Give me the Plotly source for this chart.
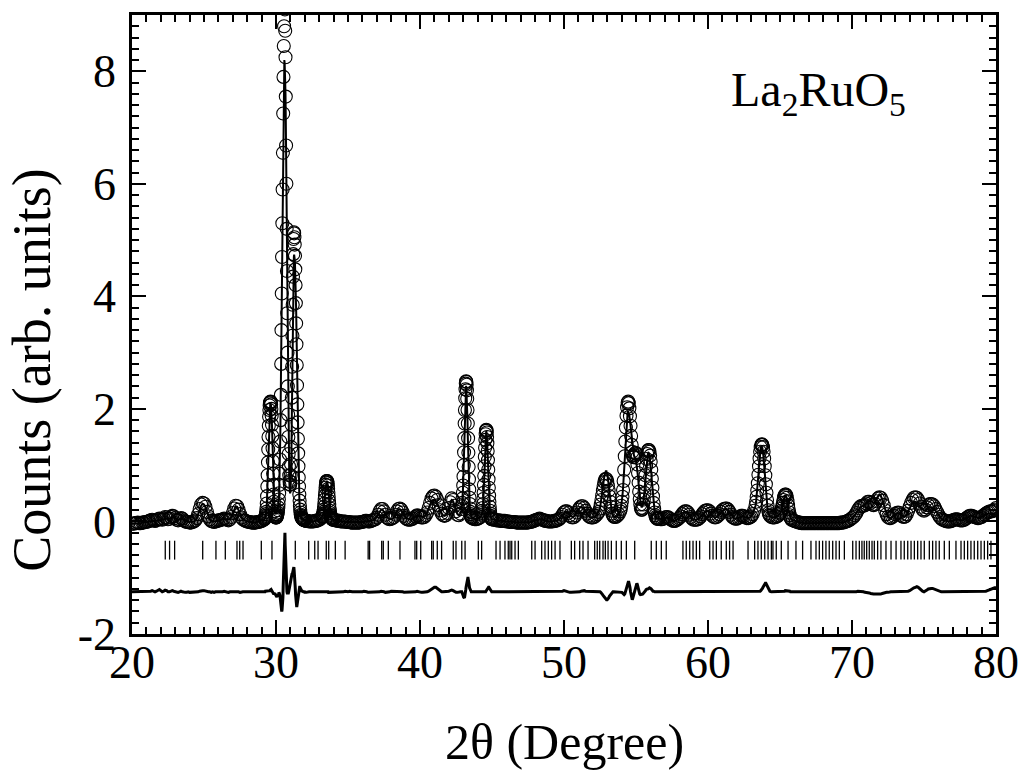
import plotly.graph_objects as go

# ---------------- data ----------------
# Observed (obs) and calculated (calc) intensities, stored per sampled segment.
# Each segment: first 2-theta value, 2-theta step, obs list, calc list.
seg_a_obs = [-0.04, -0.04, -0.03, -0.03, -0.02, -0.03, -0.03, -0.02, -0.02, -0.01,
             -0.01, 0.00, 0.01, 0.02, 0.03, 0.02, 0.01, 0.02, 0.04, 0.05,
             0.04, 0.03, 0.05, 0.08, 0.07, 0.04, 0.05, 0.08, 0.10, 0.09,
             0.06, 0.03, 0.02, 0.04, 0.06, 0.05, 0.02, 0.00, -0.01, -0.01,
             -0.02, -0.02, -0.01, 0.00, 0.02, 0.06, 0.13, 0.22, 0.30, 0.33,
             0.32, 0.26, 0.17, 0.09, 0.04, 0.01, 0.00, -0.01, 0.00, 0.01,
             0.02, 0.02, 0.03, 0.04, 0.05, 0.04, 0.03, 0.02, 0.04, 0.08,
             0.15, 0.23, 0.28, 0.27, 0.21, 0.13, 0.07, 0.04, 0.02, 0.01,
             0.00, -0.01, -0.01, -0.02, -0.02, -0.02, -0.02, -0.01, -0.01, 0.00,
             0.01, 0.02, 0.04]
seg_a_calc = [-0.04, -0.04, -0.03, -0.03, -0.03, -0.03, -0.03, -0.02, -0.02, -0.02,
              -0.01, -0.01, 0.00, 0.01, 0.01, 0.01, 0.01, 0.01, 0.01, 0.01,
              0.02, 0.03, 0.04, 0.05, 0.05, 0.04, 0.05, 0.07, 0.08, 0.08,
              0.06, 0.04, 0.03, 0.04, 0.05, 0.05, 0.03, 0.01, 0.00, -0.01,
              -0.01, -0.01, -0.01, 0.00, 0.02, 0.06, 0.13, 0.21, 0.28, 0.31,
              0.30, 0.25, 0.17, 0.09, 0.04, 0.02, 0.00, 0.00, 0.00, 0.01,
              0.02, 0.03, 0.03, 0.04, 0.04, 0.04, 0.03, 0.03, 0.04, 0.08,
              0.15, 0.22, 0.27, 0.26, 0.21, 0.14, 0.07, 0.04, 0.02, 0.01,
              0.00, 0.00, -0.01, -0.01, -0.02, -0.02, -0.02, -0.01, -0.01, 0.00,
              0.01, 0.02, 0.04]

seg_b_obs = [0.05, 0.06, 0.08, 0.10, 0.13, 0.17, 0.23, 0.32, 0.45, 0.62,
             0.82, 1.05, 1.28, 1.50, 1.70, 1.86, 1.98, 2.06, 2.10, 2.12,
             2.13, 2.12, 2.08, 2.00, 1.88, 1.72, 1.52, 1.30, 1.07, 0.85,
             0.65, 0.48, 0.35, 0.25, 0.18, 0.13, 0.10, 0.08, 0.07, 0.07,
             0.07, 0.08, 0.09, 0.11, 0.13, 0.16, 0.20, 0.25, 0.31, 0.39,
             0.50, 0.65, 0.85, 1.10, 1.42, 1.80, 2.25, 2.80, 3.40, 4.05,
             4.70, 5.30, 5.90, 6.55, 7.25, 7.90, 8.45, 8.80, 9.20, 9.15,
             9.10, 8.72, 8.25, 7.55, 6.68, 6.00, 5.20, 4.45, 3.70, 3.00,
             2.40, 1.90, 1.50, 1.20, 0.98, 0.82, 0.72, 0.66, 0.65, 0.70,
             0.82, 1.02, 1.32, 1.72, 2.20, 2.75, 3.30, 3.85, 4.35, 4.75,
             5.02, 5.14, 5.12, 5.05, 4.92, 4.72, 4.48, 4.20, 3.88, 3.52,
             3.15, 2.78, 2.42, 2.08, 1.76, 1.47, 1.21, 0.98, 0.78, 0.62,
             0.48, 0.37, 0.28, 0.21, 0.16, 0.12, 0.10, 0.08, 0.07, 0.06,
             0.05, 0.05, 0.04, 0.04, 0.03, 0.03, 0.03, 0.02, 0.02]
seg_b_calc = [0.05, 0.06, 0.07, 0.09, 0.12, 0.16, 0.22, 0.31, 0.44, 0.61,
              0.81, 1.04, 1.27, 1.49, 1.68, 1.84, 1.96, 2.04, 2.08, 2.09,
              2.09, 2.08, 2.04, 1.97, 1.86, 1.71, 1.53, 1.32, 1.10, 0.88,
              0.68, 0.51, 0.38, 0.28, 0.21, 0.16, 0.14, 0.13, 0.13, 0.14,
              0.15, 0.17, 0.18, 0.19, 0.21, 0.23, 0.26, 0.31, 0.36, 0.40,
              0.52, 0.68, 0.90, 1.18, 1.55, 2.00, 2.52, 3.10, 3.72, 4.40,
              5.02, 5.58, 6.12, 6.65, 7.15, 7.60, 7.95, 8.15, 8.20, 8.15,
              8.05, 7.90, 7.60, 7.15, 6.55, 5.90, 5.20, 4.45, 3.72, 3.02,
              2.42, 1.92, 1.52, 1.20, 0.95, 0.76, 0.62, 0.53, 0.50, 0.52,
              0.60, 0.76, 1.02, 1.40, 1.88, 2.42, 2.98, 3.50, 3.95, 4.32,
              4.58, 4.70, 4.74, 4.72, 4.66, 4.56, 4.42, 4.25, 4.04, 3.76,
              3.42, 3.05, 2.66, 2.28, 1.92, 1.58, 1.27, 0.99, 0.76, 0.57,
              0.41, 0.29, 0.20, 0.14, 0.10, 0.08, 0.07, 0.06, 0.06, 0.05,
              0.05, 0.04, 0.04, 0.03, 0.03, 0.03, 0.02, 0.02, 0.02]

seg_c_obs = [0.02, 0.01, 0.01, 0.00, 0.00, 0.00, 0.00, 0.01, 0.01, 0.02, 0.03, 0.05, 0.08]
seg_c_calc = [0.03, 0.02, 0.01, 0.00, 0.00, 0.00, 0.00, 0.00, 0.01, 0.02, 0.03, 0.05, 0.08]

seg_d_obs = [0.09, 0.10, 0.12, 0.14, 0.17, 0.21, 0.26, 0.32, 0.39, 0.46,
             0.53, 0.60, 0.65, 0.69, 0.71, 0.72, 0.72, 0.71, 0.68, 0.64,
             0.58, 0.51, 0.44, 0.37, 0.30, 0.24, 0.19, 0.15, 0.12, 0.10,
             0.08, 0.07, 0.06, 0.05, 0.05, 0.04, 0.04, 0.03, 0.03]
seg_d_calc = [0.09, 0.10, 0.12, 0.14, 0.17, 0.21, 0.26, 0.32, 0.39, 0.46,
              0.53, 0.59, 0.64, 0.68, 0.70, 0.71, 0.71, 0.70, 0.68, 0.64,
              0.58, 0.52, 0.45, 0.38, 0.31, 0.25, 0.20, 0.16, 0.12, 0.10,
              0.08, 0.07, 0.06, 0.05, 0.05, 0.04, 0.04, 0.03, 0.03]

seg_e_obs = [0.03, 0.02, 0.02, 0.01, 0.01, 0.00, 0.00, 0.00, 0.00, -0.01,
             -0.01, -0.01, -0.02, -0.02, -0.02, -0.02, -0.02, -0.02, -0.02, -0.01,
             -0.01, 0.00, 0.01, 0.01, 0.00, 0.00, 0.01, 0.02, 0.03, 0.04,
             0.07, 0.12, 0.18, 0.22, 0.22, 0.18, 0.12, 0.07, 0.05, 0.04,
             0.05, 0.06, 0.08, 0.12, 0.18, 0.22, 0.23, 0.21, 0.16, 0.10,
             0.06, 0.04, 0.03, 0.03, 0.04, 0.05, 0.07, 0.09, 0.11, 0.10,
             0.08, 0.07, 0.07, 0.08, 0.11, 0.16, 0.24, 0.33, 0.41, 0.45,
             0.46, 0.44, 0.38, 0.29, 0.20, 0.14, 0.11, 0.10, 0.11, 0.15,
             0.24, 0.34, 0.41, 0.38, 0.28, 0.18, 0.12, 0.11, 0.14, 0.22]
seg_e_calc = [0.03, 0.02, 0.02, 0.01, 0.01, 0.00, 0.00, 0.00, -0.01, -0.01,
              -0.01, -0.02, -0.02, -0.02, -0.02, -0.02, -0.02, -0.02, -0.01, -0.01,
              -0.01, -0.01, 0.00, 0.01, 0.01, 0.01, 0.01, 0.02, 0.03, 0.05,
              0.08, 0.13, 0.18, 0.21, 0.21, 0.18, 0.13, 0.08, 0.05, 0.04,
              0.04, 0.05, 0.08, 0.12, 0.17, 0.21, 0.22, 0.20, 0.16, 0.11,
              0.07, 0.05, 0.04, 0.04, 0.04, 0.05, 0.07, 0.09, 0.10, 0.10,
              0.09, 0.08, 0.08, 0.09, 0.11, 0.16, 0.23, 0.30, 0.36, 0.38,
              0.38, 0.36, 0.32, 0.26, 0.19, 0.14, 0.11, 0.10, 0.11, 0.15,
              0.23, 0.32, 0.38, 0.36, 0.28, 0.19, 0.13, 0.11, 0.14, 0.22]

seg_f_obs = [0.27, 0.33, 0.41, 0.51, 0.64, 0.80, 1.00, 1.23, 1.48, 1.74,
             1.98, 2.19, 2.35, 2.45, 2.49, 2.48, 2.43, 2.33, 2.18, 1.98,
             1.74, 1.48, 1.22, 0.97, 0.75, 0.57, 0.42, 0.31, 0.23, 0.17,
             0.13, 0.10, 0.08, 0.07, 0.06]
seg_f_calc = [0.28, 0.35, 0.44, 0.56, 0.71, 0.89, 1.10, 1.34, 1.59, 1.83,
              2.05, 2.23, 2.35, 2.41, 2.41, 2.36, 2.27, 2.14, 1.98, 1.78,
              1.50, 1.24, 1.00, 0.79, 0.61, 0.46, 0.35, 0.26, 0.20, 0.15,
              0.12, 0.09, 0.08, 0.07, 0.06]

seg_g_obs = [0.05, 0.04, 0.04, 0.05, 0.06, 0.08, 0.12]
seg_g_calc = [0.05, 0.05, 0.04, 0.05, 0.06, 0.08, 0.12]

seg_h_obs = [0.15, 0.19, 0.24, 0.31, 0.40, 0.51, 0.65, 0.81, 0.98, 1.15,
             1.31, 1.45, 1.55, 1.61, 1.63, 1.62, 1.58, 1.50, 1.39, 1.25,
             1.09, 0.92, 0.75, 0.60, 0.46, 0.35, 0.26, 0.19, 0.14, 0.10,
             0.08, 0.06, 0.05, 0.04, 0.04]
seg_h_calc = [0.15, 0.19, 0.24, 0.31, 0.40, 0.51, 0.65, 0.81, 0.98, 1.15,
              1.31, 1.45, 1.55, 1.60, 1.61, 1.59, 1.54, 1.45, 1.33, 1.18,
              1.01, 0.84, 0.67, 0.52, 0.39, 0.29, 0.21, 0.15, 0.11, 0.08,
              0.07, 0.05, 0.05, 0.04, 0.04]

seg_i_obs = [0.03, 0.03, 0.02, 0.02, 0.02, 0.01, 0.01, 0.01, 0.01, 0.00,
             0.00, 0.00, -0.01, -0.01, -0.01, -0.01, -0.02, -0.02, -0.02, -0.02,
             -0.02, -0.02, -0.02, -0.02, -0.02, -0.01, -0.01, 0.00, 0.01, 0.02,
             0.03, 0.04, 0.05, 0.04, 0.03, 0.02, 0.01, 0.01, 0.00, 0.00,
             0.00, 0.00, 0.01, 0.01, 0.02, 0.03, 0.05, 0.08, 0.12, 0.16,
             0.18, 0.18, 0.15, 0.11, 0.08, 0.07, 0.08, 0.11, 0.16, 0.21,
             0.25, 0.27, 0.27, 0.24, 0.19, 0.14, 0.10, 0.08, 0.07, 0.07,
             0.08, 0.10, 0.13, 0.17, 0.23]
seg_i_calc = [0.03, 0.03, 0.02, 0.02, 0.02, 0.01, 0.01, 0.01, 0.00, 0.00,
              0.00, -0.01, -0.01, -0.01, -0.01, -0.01, -0.02, -0.02, -0.02, -0.02,
              -0.02, -0.02, -0.02, -0.02, -0.02, -0.01, -0.01, 0.00, 0.01, 0.02,
              0.03, 0.04, 0.04, 0.04, 0.03, 0.02, 0.01, 0.01, 0.00, 0.00,
              0.00, 0.00, 0.00, 0.01, 0.02, 0.03, 0.05, 0.08, 0.11, 0.14,
              0.17, 0.17, 0.15, 0.12, 0.09, 0.08, 0.09, 0.12, 0.17, 0.22,
              0.25, 0.26, 0.25, 0.22, 0.18, 0.13, 0.10, 0.08, 0.07, 0.07,
              0.08, 0.10, 0.13, 0.17, 0.23]

seg_j1_obs = [0.30, 0.38, 0.46, 0.55, 0.63, 0.70, 0.74, 0.76, 0.75, 0.71,
              0.64, 0.55, 0.45, 0.35, 0.26, 0.19, 0.14, 0.11, 0.09, 0.08]
seg_j1_calc = [0.31, 0.40, 0.50, 0.61, 0.71, 0.80, 0.86, 0.89, 0.89, 0.85,
               0.77, 0.66, 0.53, 0.41, 0.30, 0.21, 0.15, 0.11, 0.09, 0.08]

seg_j2_obs = [0.08, 0.10, 0.13, 0.18]
seg_j2_calc = [0.08, 0.10, 0.13, 0.18]

seg_j3_obs = [0.22, 0.28,
              0.35, 0.44, 0.56, 0.72, 0.92, 1.16, 1.42, 1.67, 1.88, 2.03,
              2.11, 2.13, 2.10, 2.01, 1.87, 1.70, 1.52, 1.36, 1.24, 1.17,
              1.14, 1.15, 1.18, 1.21, 1.22,
              1.20, 1.13, 1.01, 0.86, 0.69, 0.53, 0.40, 0.30, 0.24, 0.21,
              0.21, 0.24, 0.30, 0.39, 0.51, 0.66, 0.82, 0.98, 1.11, 1.20,
              1.25, 1.27, 1.27, 1.24, 1.17,
              1.06, 0.92, 0.76, 0.60, 0.45, 0.33, 0.23, 0.16, 0.11, 0.08,
              0.06, 0.05, 0.05, 0.05, 0.05]
seg_j3_calc = [0.22, 0.28,
               0.36, 0.46, 0.59, 0.76, 0.97, 1.20, 1.42, 1.62, 1.78, 1.89,
               1.95, 1.96, 1.93, 1.87, 1.79, 1.70, 1.60, 1.49, 1.38, 1.28,
               1.21, 1.17, 1.15, 1.13, 1.10,
               1.05, 0.98, 0.89, 0.79, 0.67, 0.55, 0.44, 0.35, 0.29, 0.26,
               0.26, 0.28, 0.33, 0.41, 0.52, 0.65, 0.80, 0.94, 1.06, 1.15,
               1.20, 1.22, 1.21, 1.17, 1.10,
               1.00, 0.87, 0.73, 0.58, 0.44, 0.32, 0.23, 0.16, 0.11, 0.08,
               0.06, 0.05, 0.05, 0.05, 0.05]

seg_k_obs = [0.04, 0.04, 0.05, 0.07, 0.08, 0.08, 0.06, 0.04, 0.02, 0.01,
             0.01, 0.02, 0.04, 0.06, 0.09, 0.13, 0.16, 0.18, 0.18, 0.16,
             0.12, 0.08, 0.05, 0.03, 0.03, 0.03, 0.04, 0.06, 0.09, 0.13,
             0.16, 0.19, 0.20, 0.20, 0.18, 0.14, 0.10, 0.08, 0.07, 0.08,
             0.10, 0.13, 0.17, 0.20, 0.22, 0.23, 0.23, 0.21, 0.17, 0.12,
             0.08, 0.06, 0.05, 0.05, 0.06, 0.08, 0.10, 0.10, 0.09, 0.07,
             0.06, 0.06, 0.07, 0.09, 0.13, 0.19, 0.28]
seg_k_calc = [0.04, 0.04, 0.05, 0.06, 0.07, 0.07, 0.06, 0.04, 0.02, 0.01,
              0.01, 0.02, 0.04, 0.06, 0.09, 0.12, 0.15, 0.17, 0.17, 0.15,
              0.12, 0.08, 0.05, 0.03, 0.03, 0.03, 0.04, 0.06, 0.09, 0.12,
              0.15, 0.18, 0.19, 0.19, 0.17, 0.14, 0.10, 0.08, 0.07, 0.08,
              0.10, 0.13, 0.16, 0.19, 0.21, 0.22, 0.22, 0.20, 0.16, 0.12,
              0.08, 0.06, 0.05, 0.05, 0.06, 0.07, 0.09, 0.09, 0.08, 0.07,
              0.06, 0.06, 0.07, 0.09, 0.13, 0.19, 0.28]

seg_l_obs = [0.35, 0.44, 0.55, 0.68, 0.83, 0.98, 1.12, 1.24, 1.32, 1.36,
             1.37, 1.36, 1.32, 1.24, 1.12, 0.98, 0.82, 0.66, 0.51, 0.38,
             0.28, 0.20, 0.15, 0.12, 0.10]
seg_l_calc = [0.35, 0.44, 0.55, 0.68, 0.83, 0.98, 1.12, 1.23, 1.30, 1.33,
              1.33, 1.30, 1.24, 1.14, 1.00, 0.84, 0.67, 0.51, 0.38, 0.28,
              0.20, 0.15, 0.12, 0.10, 0.09]

seg_m_obs = [0.08, 0.07, 0.07, 0.08, 0.09, 0.11, 0.14]
seg_m_calc = [0.08, 0.07, 0.07, 0.08, 0.09, 0.11, 0.14]

seg_n_obs = [0.16, 0.19, 0.23, 0.28, 0.33, 0.38, 0.43, 0.46, 0.48, 0.48,
             0.46, 0.42, 0.36, 0.29, 0.22, 0.16, 0.11, 0.07, 0.05, 0.03]
seg_n_calc = [0.16, 0.19, 0.23, 0.28, 0.33, 0.38, 0.42, 0.45, 0.46, 0.46,
              0.44, 0.40, 0.35, 0.28, 0.21, 0.15, 0.10, 0.07, 0.05, 0.03]

seg_o_obs = [0.02, 0.01, 0.00, -0.01, -0.02, -0.02, -0.03, -0.03, -0.03, -0.03,
             -0.03, -0.03, -0.03, -0.03, -0.03, -0.03, -0.03, -0.03, -0.03, -0.03,
             -0.03, -0.03, -0.03, -0.03, -0.03, -0.03, -0.03, -0.03, -0.03, -0.03,
             -0.03, -0.03, -0.03, -0.02, -0.02, -0.02, -0.01, 0.00, 0.01, 0.02,
             0.04, 0.06, 0.08, 0.11, 0.15, 0.20, 0.24, 0.27, 0.28, 0.28,
             0.29, 0.32, 0.35, 0.35, 0.33, 0.30, 0.29, 0.31, 0.36, 0.41,
             0.43, 0.42, 0.37, 0.29, 0.20, 0.13, 0.08, 0.06, 0.06, 0.08,
             0.10, 0.13, 0.15, 0.16, 0.15, 0.12, 0.09, 0.08, 0.09, 0.13,
             0.19, 0.26, 0.33, 0.38, 0.42, 0.43, 0.42, 0.38, 0.32, 0.26,
             0.21, 0.19, 0.21, 0.25, 0.29, 0.31, 0.31, 0.30, 0.27, 0.22,
             0.17, 0.12, 0.08, 0.05, 0.03, 0.02, 0.01, 0.00, 0.00, 0.00,
             0.01, 0.02, 0.03, 0.04, 0.04, 0.03, 0.02, 0.02, 0.02, 0.03,
             0.05, 0.07, 0.09, 0.10, 0.10, 0.09, 0.08, 0.07, 0.06, 0.06,
             0.07, 0.08, 0.10, 0.12, 0.14, 0.16, 0.17, 0.18, 0.18, 0.19,
             0.21, 0.24]
seg_o_calc = [0.02, 0.01, 0.00, -0.01, -0.02, -0.02, -0.02, -0.03, -0.03, -0.03,
              -0.03, -0.03, -0.03, -0.03, -0.03, -0.03, -0.03, -0.03, -0.03, -0.03,
              -0.03, -0.03, -0.03, -0.03, -0.03, -0.03, -0.03, -0.03, -0.03, -0.03,
              -0.03, -0.03, -0.03, -0.02, -0.02, -0.02, -0.01, 0.00, 0.01, 0.02,
              0.04, 0.06, 0.08, 0.11, 0.15, 0.19, 0.23, 0.26, 0.27, 0.28,
              0.30, 0.33, 0.36, 0.37, 0.36, 0.34, 0.33, 0.35, 0.40, 0.45,
              0.48, 0.46, 0.40, 0.31, 0.22, 0.14, 0.09, 0.06, 0.06, 0.08,
              0.10, 0.12, 0.14, 0.15, 0.14, 0.12, 0.09, 0.08, 0.09, 0.12,
              0.18, 0.24, 0.29, 0.33, 0.35, 0.35, 0.33, 0.30, 0.27, 0.23,
              0.20, 0.19, 0.20, 0.22, 0.24, 0.25, 0.25, 0.24, 0.22, 0.19,
              0.15, 0.11, 0.07, 0.05, 0.03, 0.02, 0.01, 0.00, 0.00, 0.00,
              0.01, 0.02, 0.03, 0.04, 0.04, 0.03, 0.02, 0.02, 0.02, 0.03,
              0.05, 0.07, 0.09, 0.10, 0.10, 0.09, 0.08, 0.07, 0.06, 0.06,
              0.07, 0.08, 0.10, 0.12, 0.13, 0.14, 0.14, 0.14, 0.13, 0.12,
              0.14, 0.17]

segments = [
    (20.00, 0.10, seg_a_obs, seg_a_calc),
    (29.22, 0.02, seg_b_obs, seg_b_calc),
    (32.00, 0.10, seg_c_obs, seg_c_calc),
    (33.22, 0.02, seg_d_obs, seg_d_calc),
    (34.00, 0.10, seg_e_obs, seg_e_calc),
    (42.92, 0.02, seg_f_obs, seg_f_calc),
    (43.70, 0.10, seg_g_obs, seg_g_calc),
    (44.32, 0.02, seg_h_obs, seg_h_calc),
    (45.10, 0.10, seg_i_obs, seg_i_calc),
    (52.55, 0.05, seg_j1_obs, seg_j1_calc),
    (53.60, 0.10, seg_j2_obs, seg_j2_calc),
    (53.94, 0.04, seg_j3_obs, seg_j3_calc),
    (56.70, 0.10, seg_k_obs, seg_k_calc),
    (63.34, 0.04, seg_l_obs, seg_l_calc),
    (64.40, 0.10, seg_m_obs, seg_m_calc),
    (65.04, 0.04, seg_n_obs, seg_n_calc),
    (65.90, 0.10, seg_o_obs, seg_o_calc),
]

# Bragg reflection positions (2-theta)
bragg_positions = [
    22.31, 22.61, 22.96, 24.91, 25.83, 26.48, 27.29, 27.48, 27.71, 28.98,
    29.72, 30.63, 31.34, 32.27, 32.69, 32.92, 33.49, 33.66, 34.12, 34.80,
    36.40, 36.50, 37.34, 37.45, 37.80, 38.61, 39.65, 39.77, 40.05, 40.81,
    40.92, 41.20, 41.50, 42.31, 42.50, 42.90, 43.13, 44.05, 44.28, 45.28,
    45.56, 45.90, 46.13, 46.25, 46.37, 46.60, 46.83, 47.76, 47.99, 48.45,
    48.68, 48.91, 49.14, 49.38, 49.72, 50.51, 50.74, 51.09, 51.32, 51.67,
    52.13, 52.31, 52.48, 52.71, 52.87, 53.06, 53.29, 53.63, 53.98, 54.33,
    54.91, 56.06, 56.41, 56.76, 57.10, 58.26, 58.49, 58.73, 58.96, 59.19,
    59.42, 60.12, 60.35, 60.58, 60.92, 61.27, 61.50, 61.74, 62.78, 63.24,
    63.47, 63.70, 63.94, 64.17, 64.40, 64.51, 64.74, 65.09, 65.56, 66.11,
    66.57, 67.15, 67.50, 67.73, 67.96, 68.19, 68.42, 68.66, 68.89, 69.12,
    69.47, 70.05, 70.28, 70.51, 70.69, 70.85, 71.02, 71.20, 71.39, 71.55,
    71.78, 72.01, 72.36, 72.71, 73.06, 73.40, 73.63, 73.87, 74.10, 74.33,
    74.56, 74.79, 75.02, 75.37, 75.60, 75.83, 76.06, 76.41, 76.76, 77.22,
    77.57, 77.80, 78.03, 78.26, 78.49, 78.73, 78.96, 79.19, 79.42, 79.65,
]

diff_offset = -1.25      # baseline of the difference curve
bragg_level = -0.51      # vertical centre of the Bragg tick row

x_tick_values = [20, 30, 40, 50, 60, 70, 80]
y_tick_values = [-2, 0, 2, 4, 6, 8]
y_tick_labels = ["-2", "0", "2", "4", "6", "8"]

# ---------------- build the series ----------------
x_all, obs_all, calc_all = [], [], []
for start, step, o, c in segments:
    assert len(o) == len(c), (start, len(o), len(c))
    for i, (yo, yc) in enumerate(zip(o, c)):
        x_all.append(round(start + step * i, 3))
        obs_all.append(yo)
        calc_all.append(yc)
diff_all = [yo - yc + diff_offset for yo, yc in zip(obs_all, calc_all)]

FONT = "Liberation Serif"

fig = go.Figure()
fig.add_trace(go.Scatter(
    x=x_all, y=obs_all, mode="markers",
    marker=dict(symbol="circle-open", size=13, color="black", line=dict(width=1.1, color="black")),
    hoverinfo="skip"))
fig.add_trace(go.Scatter(
    x=x_all, y=calc_all, mode="lines",
    line=dict(color="black", width=2), hoverinfo="skip"))
fig.add_trace(go.Scatter(
    x=bragg_positions, y=[bragg_level] * len(bragg_positions), mode="markers",
    marker=dict(symbol="line-ns-open", size=13.5, color="black", line=dict(width=1.3, color="black")),
    hoverinfo="skip"))
fig.add_trace(go.Scatter(
    x=x_all, y=diff_all, mode="lines",
    line=dict(color="black", width=3), hoverinfo="skip"))

axis_common = dict(
    showline=True, linecolor="black", linewidth=2.5, mirror="ticks",
    ticks="inside", ticklen=14, tickwidth=2, tickcolor="black",
    showgrid=False, zeroline=False, automargin=False,
    tickfont=dict(family=FONT, size=46, color="black"),
)

fig.update_layout(
    width=1024, height=776,
    margin=dict(l=132, r=28, t=15, b=142),
    paper_bgcolor="white", plot_bgcolor="white",
    showlegend=False,
    xaxis=dict(
        range=[20, 80], tickmode="array", tickvals=x_tick_values,
        minor=dict(dtick=1, tick0=20, ticks="inside", ticklen=7, tickwidth=2, tickcolor="black"),
        ticklabelstandoff=-14,
        **axis_common),
    yaxis=dict(
        range=[-2, 9], tickmode="array", tickvals=y_tick_values, ticktext=y_tick_labels,
        minor=dict(dtick=0.2, tick0=0, ticks="inside", ticklen=7, tickwidth=2, tickcolor="black"),
        ticklabelstandoff=4,
        **axis_common),
    annotations=[
        dict(x=0.5, y=-0.1745, xref="paper", yref="paper", xanchor="center", yanchor="middle",
             text="2θ (Degree)", showarrow=False,
             font=dict(family=FONT, size=50, color="black")),
        dict(x=-0.116, y=0.4265, xref="paper", yref="paper", xanchor="center", yanchor="middle",
             text="Counts (arb. units)", textangle=-90, showarrow=False,
             font=dict(family=FONT, size=54, color="black")),
        dict(x=61.45, y=7.62, xref="x", yref="y", xanchor="left", yanchor="middle",
             text="La<sub>2</sub>RuO<sub>5</sub>", showarrow=False,
             font=dict(family=FONT, size=48, color="black")),
    ],
)

fig.write_html("out.html",
               config={"displayModeBar": False},
               post_script="document.body.style.margin='0px';document.body.style.padding='0px';")
